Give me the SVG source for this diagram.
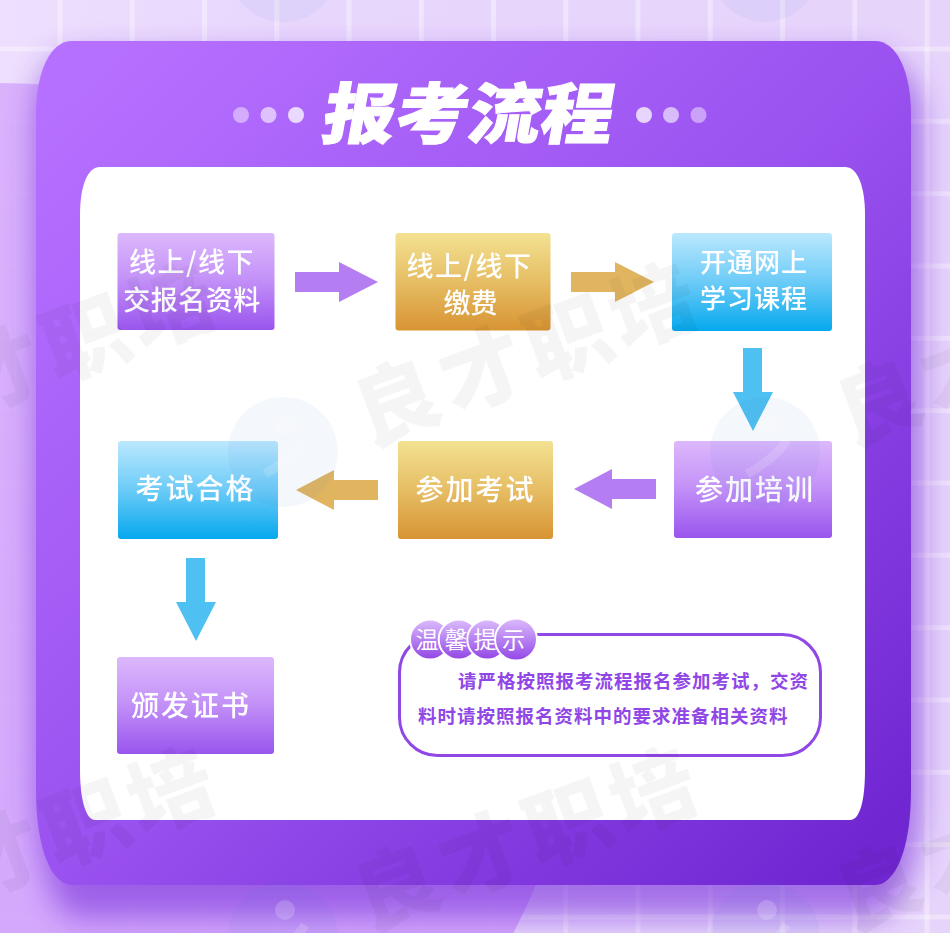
<svg xmlns="http://www.w3.org/2000/svg" xmlns:xlink="http://www.w3.org/1999/xlink" width="950" height="933" viewBox="0 0 950 933">
<defs>
<linearGradient id="bg" x1="0" y1="0" x2="1" y2="0"><stop offset="0" stop-color="#eddffd"/><stop offset="0.3" stop-color="#e8d7fd"/><stop offset="1" stop-color="#e6d4fb"/></linearGradient>
<linearGradient id="blob" x1="0" y1="0" x2="0" y2="1"><stop offset="0" stop-color="#d7adfc"/><stop offset="1" stop-color="#cf9ffc"/></linearGradient>
<linearGradient id="card" x1="0.05" y1="0.05" x2="0.95" y2="0.95"><stop offset="0" stop-color="#b670ff"/><stop offset="0.5" stop-color="#9a52f0"/><stop offset="1" stop-color="#7027d2"/></linearGradient>
<linearGradient id="gp" x1="0" y1="0" x2="0" y2="1"><stop offset="0" stop-color="#dcb8fc"/><stop offset="0.45" stop-color="#c594f8"/><stop offset="1" stop-color="#9a55ee"/></linearGradient>
<linearGradient id="gg" x1="0" y1="0" x2="0" y2="1"><stop offset="0" stop-color="#f3e292"/><stop offset="0.5" stop-color="#e6bd64"/><stop offset="1" stop-color="#d89433"/></linearGradient>
<linearGradient id="gb" x1="0" y1="0" x2="0" y2="1"><stop offset="0" stop-color="#bce8fe"/><stop offset="0.5" stop-color="#6ccbf7"/><stop offset="1" stop-color="#05a8ee"/></linearGradient>
<linearGradient id="gc" x1="0" y1="0" x2="0" y2="1"><stop offset="0" stop-color="#dcbcfc"/><stop offset="1" stop-color="#9246e6"/></linearGradient>
<filter id="glow" x="-15%" y="-15%" width="130%" height="130%"><feGaussianBlur stdDeviation="15"/></filter>
<filter id="soft" x="-10%" y="-10%" width="120%" height="120%"><feGaussianBlur stdDeviation="0.4"/></filter>
<g id="wm">
<circle cx="0" cy="0" r="55" fill="#3f74c8" opacity="0.06"/>
<circle cx="2" cy="-27" r="10" fill="#fff" opacity="0.18"/>
<path d="M-18 22C-4 14 14 2 22 -12" fill="none" stroke="#fff" stroke-width="9" opacity="0.15"/>
<text class="wmt" x="85" y="-6" transform="rotate(-20.500 85 -6)">良才职培</text>
</g>
</defs>
<style>
text{font-family:"Noto Sans CJK SC","Liberation Sans",sans-serif}
.lab{fill:#fff;font-size:27px;font-weight:500;text-anchor:middle;filter:url(#soft)}
.big{font-size:28px;letter-spacing:2px}
.sm{font-size:26px;letter-spacing:1px}
.tip{fill:#9047e6;font-size:18.500px;font-weight:700;letter-spacing:1px}
.cap{fill:#fff;font-size:23px;font-weight:400;text-anchor:middle}
.wmt{fill:#000;fill-opacity:0.04;font-size:85px;font-weight:900;letter-spacing:6px}
.grid{stroke:#fff;stroke-opacity:0.36;stroke-width:5;fill:none}
.box{stroke:none}
</style>
<g id="background">
<rect width="950" height="933" fill="url(#bg)"/>
<path class="grid" d="M60 0V933M132.300 0V933M204.500 0V933M276.800 0V933M349 0V933M421.300 0V933M493.500 0V933M565.800 0V933M638 0V933M710.300 0V933M782.500 0V933M854.800 0V933M927 0V933"/>
<path class="grid" d="M0 49H950M0 121.300H950M0 193.700H950M0 266H950M0 338.300H950M0 410.700H950M0 483H950M0 555.300H950M0 627.700H950M0 700H950M0 772.300H950M0 844.700H950M0 917H950"/>
<circle cx="0" cy="663" r="580" fill="url(#blob)" opacity="0.9"/>
</g>
<path id="card-glow" d="M76 55H871C897 55 922 84 922 125V790C922 850 905 918 871 918H76C52 918 36 850 36 790V125C36 84 50 55 76 55Z" fill="#7a30dc" opacity="0.62" filter="url(#glow)"/>
<path id="card" d="M72 41H875C896 41 911 70 911 115V790C911 850 895 885 875 885H72C52 885 36 850 36 790V115C36 70 51 41 72 41Z" fill="url(#card)"/>
<path id="panel" d="M100 167H845C857 167 865 185 865 215V770C865 800 860 820 850 820H95C86 820 80 800 80 770V215C80 185 88 167 100 167Z" fill="#fff"/>
<g id="title">
<text x="0" y="0" transform="translate(320 138) skewX(-10) scale(1.1 1)" fill="#fff" stroke="#fff" stroke-width="1" font-size="66" font-weight="900">报考流程</text>
<g fill="#fff">
<circle cx="241" cy="115" r="8" opacity="0.45"/><circle cx="268.500" cy="115" r="8" opacity="0.6"/><circle cx="296" cy="115" r="8" opacity="0.75"/>
<circle cx="644" cy="115" r="8" opacity="0.75"/><circle cx="671" cy="115" r="8" opacity="0.6"/><circle cx="698.500" cy="115" r="8" opacity="0.45"/>
</g>
</g>
<g id="connectors">
<path fill="#b57df2" d="M295 272H339V262L378 282L339 302V292H295Z"/>
<path fill="#e1b55f" d="M571 272H615V262L654 282L615 302V292H571Z"/>
<path fill="#4fc0f2" d="M743 348H762V392H773L753 431L733 392H743Z"/>
<path fill="#b57df2" d="M656 479H612V469L574 489L612 509V499H656Z"/>
<path fill="#e1b55f" d="M378 480H334V470L296 490L334 510V500H378Z"/>
<path fill="#4fc0f2" d="M186 558H205V602H216L196 641L176 602H186Z"/>
</g>
<g id="node-1"><rect class="box" x="117.500" y="233" width="157" height="97" rx="3" fill="url(#gp)"/>
<text class="lab" x="192" y="272" letter-spacing="1.500">线上/线下</text><text class="lab" x="192" y="310" letter-spacing="0.5">交报名资料</text></g>
<g id="node-2"><rect class="box" x="395.500" y="233" width="155" height="97.500" rx="3" fill="url(#gg)"/>
<text class="lab" x="469.500" y="276" letter-spacing="1.500">线上/线下</text><text class="lab" x="470.500" y="313">缴费</text></g>
<g id="node-3"><rect class="box" x="672" y="233" width="160" height="98" rx="3" fill="url(#gb)"/>
<text class="lab sm" x="754" y="272">开通网上</text><text class="lab sm" x="754" y="308">学习课程</text></g>
<g id="node-4"><rect class="box" x="674" y="441" width="158" height="97" rx="3" fill="url(#gp)"/>
<text class="lab big" x="755" y="500">参加培训</text></g>
<g id="node-5"><rect class="box" x="398" y="441" width="155" height="98" rx="3" fill="url(#gg)"/>
<text class="lab big" x="475.500" y="500">参加考试</text></g>
<g id="node-6"><rect class="box" x="118" y="441" width="160" height="98" rx="3" fill="url(#gb)"/>
<text class="lab big" x="195.500" y="499">考试合格</text></g>
<g id="node-7"><rect class="box" x="117" y="657" width="157" height="97" rx="3" fill="url(#gp)"/>
<text class="lab big" x="191" y="716">颁发证书</text></g>
<g id="tip">
<rect x="399.500" y="634.500" width="421" height="121" rx="38" fill="#fff" stroke="#9047e6" stroke-width="3"/>
<g stroke="#fff" stroke-width="2" fill="url(#gc)">
<circle cx="430" cy="639.500" r="20"/><circle cx="458.700" cy="639.500" r="20"/><circle cx="487.300" cy="639.500" r="20"/><circle cx="516" cy="639.500" r="21"/>
</g>
<text class="cap" x="427" y="648">温</text><text class="cap" x="456" y="648">馨</text><text class="cap" x="485" y="648">提</text><text class="cap" x="513.500" y="648">示</text>
<text class="tip" x="458" y="688">请严格按照报考流程报名参加考试，交资</text>
<text class="tip" x="418" y="723">料时请按照报名资料中的要求准备相关资料</text>
</g>
<g id="watermarks">
<use xlink:href="#wm" href="#wm" x="283" y="452"/>
<use xlink:href="#wm" href="#wm" x="765" y="452"/>
<use xlink:href="#wm" href="#wm" x="283" y="937"/>
<use xlink:href="#wm" href="#wm" x="765" y="937"/>
<use xlink:href="#wm" href="#wm" x="283" y="-33"/>
<use xlink:href="#wm" href="#wm" x="765" y="-33"/>
<use xlink:href="#wm" href="#wm" x="-199" y="452"/>
<use xlink:href="#wm" href="#wm" x="-199" y="937"/>
</g>
</svg>
